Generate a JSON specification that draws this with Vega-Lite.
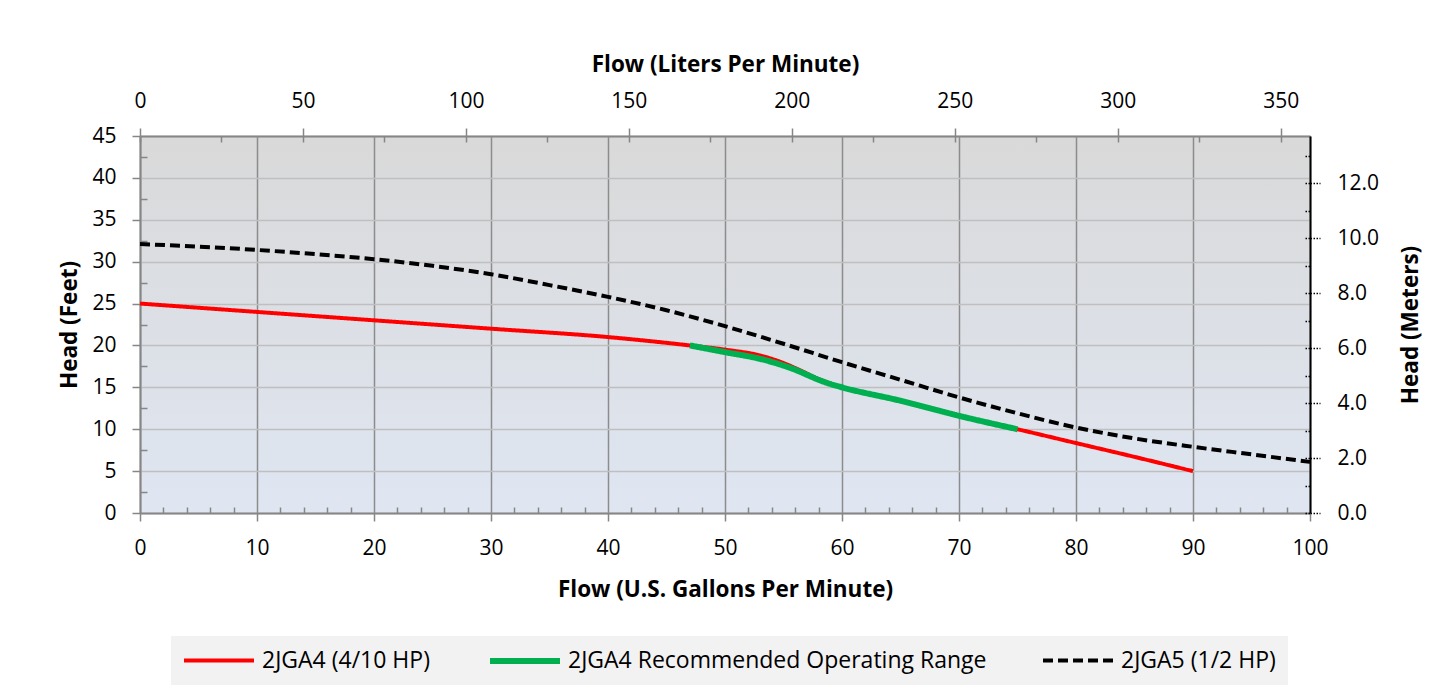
{
  "$schema": "https://vega.github.io/schema/vega-lite/v6.json",
  "width": 1170,
  "height": 377,
  "autosize": {"type": "none"},
  "padding": {"left": 140, "top": 136, "right": 137, "bottom": 183},
  "background": "white",
  "config": {
    "font": "Open Sans",
    "view": {
      "stroke": null,
      "fill": {
        "gradient": "linear",
        "x1": 0, "y1": 0, "x2": 0, "y2": 1,
        "stops": [
          {"offset": 0, "color": "#d9d9d9"},
          {"offset": 1, "color": "#dfe6f2"}
        ]
      }
    },
    "axis": {
      "labelFont": "Open Sans",
      "labelFontSize": 21,
      "labelColor": "#000000",
      "labelFlush": false,
      "titleFont": "Open Sans",
      "titleFontSize": 22.5,
      "titleFontWeight": "bold",
      "titleColor": "#000000"
    },
    "legend": {
      "orient": "none",
      "legendX": 31,
      "legendY": 500,
      "direction": "horizontal",
      "columns": 3,
      "columnPadding": 48,
      "symbolType": "M-3.5,0H3.5",
      "symbolSize": 400,
      "symbolOffset": 23,
      "labelOffset": 30,
      "labelFont": "Open Sans",
      "labelFontSize": 23,
      "labelColor": "#000000",
      "labelLimit": 0,
      "fillColor": "#f2f2f2",
      "padding": 12,
      "title": null
    }
  },
  "datasets": {
    "curves": [
      {"series": "2JGA4 (4/10 HP)", "gpm": 0, "ft": 25.0},
      {"series": "2JGA4 (4/10 HP)", "gpm": 10, "ft": 24.0},
      {"series": "2JGA4 (4/10 HP)", "gpm": 20, "ft": 23.0},
      {"series": "2JGA4 (4/10 HP)", "gpm": 30, "ft": 22.0},
      {"series": "2JGA4 (4/10 HP)", "gpm": 40, "ft": 21.0},
      {"series": "2JGA4 (4/10 HP)", "gpm": 47, "ft": 20.0},
      {"series": "2JGA4 (4/10 HP)", "gpm": 50, "ft": 19.5},
      {"series": "2JGA4 (4/10 HP)", "gpm": 53, "ft": 18.8},
      {"series": "2JGA4 (4/10 HP)", "gpm": 55, "ft": 17.9},
      {"series": "2JGA4 (4/10 HP)", "gpm": 56, "ft": 17.3},
      {"series": "2JGA4 (4/10 HP)", "gpm": 58, "ft": 16.0},
      {"series": "2JGA4 (4/10 HP)", "gpm": 60, "ft": 15.0},
      {"series": "2JGA4 (4/10 HP)", "gpm": 65, "ft": 13.4},
      {"series": "2JGA4 (4/10 HP)", "gpm": 70, "ft": 11.6},
      {"series": "2JGA4 (4/10 HP)", "gpm": 75, "ft": 10.0},
      {"series": "2JGA4 (4/10 HP)", "gpm": 80, "ft": 8.35},
      {"series": "2JGA4 (4/10 HP)", "gpm": 85, "ft": 6.7},
      {"series": "2JGA4 (4/10 HP)", "gpm": 90, "ft": 5.0},
      {"series": "2JGA4 Recommended Operating Range", "gpm": 47, "ft": 20.0},
      {"series": "2JGA4 Recommended Operating Range", "gpm": 50, "ft": 19.2},
      {"series": "2JGA4 Recommended Operating Range", "gpm": 53, "ft": 18.4},
      {"series": "2JGA4 Recommended Operating Range", "gpm": 55, "ft": 17.6},
      {"series": "2JGA4 Recommended Operating Range", "gpm": 56, "ft": 17.1},
      {"series": "2JGA4 Recommended Operating Range", "gpm": 57, "ft": 16.5},
      {"series": "2JGA4 Recommended Operating Range", "gpm": 58, "ft": 15.9},
      {"series": "2JGA4 Recommended Operating Range", "gpm": 59, "ft": 15.4},
      {"series": "2JGA4 Recommended Operating Range", "gpm": 60, "ft": 15.0},
      {"series": "2JGA4 Recommended Operating Range", "gpm": 65, "ft": 13.4},
      {"series": "2JGA4 Recommended Operating Range", "gpm": 70, "ft": 11.6},
      {"series": "2JGA4 Recommended Operating Range", "gpm": 75, "ft": 10.0},
      {"series": "2JGA5 (1/2 HP)", "gpm": 0, "ft": 32.1},
      {"series": "2JGA5 (1/2 HP)", "gpm": 5, "ft": 31.8},
      {"series": "2JGA5 (1/2 HP)", "gpm": 10, "ft": 31.4},
      {"series": "2JGA5 (1/2 HP)", "gpm": 15, "ft": 30.9},
      {"series": "2JGA5 (1/2 HP)", "gpm": 20, "ft": 30.3},
      {"series": "2JGA5 (1/2 HP)", "gpm": 25, "ft": 29.5},
      {"series": "2JGA5 (1/2 HP)", "gpm": 30, "ft": 28.5},
      {"series": "2JGA5 (1/2 HP)", "gpm": 35, "ft": 27.2},
      {"series": "2JGA5 (1/2 HP)", "gpm": 40, "ft": 25.8},
      {"series": "2JGA5 (1/2 HP)", "gpm": 45, "ft": 24.2},
      {"series": "2JGA5 (1/2 HP)", "gpm": 50, "ft": 22.3},
      {"series": "2JGA5 (1/2 HP)", "gpm": 55, "ft": 20.2},
      {"series": "2JGA5 (1/2 HP)", "gpm": 60, "ft": 18.0},
      {"series": "2JGA5 (1/2 HP)", "gpm": 65, "ft": 15.9},
      {"series": "2JGA5 (1/2 HP)", "gpm": 70, "ft": 13.8},
      {"series": "2JGA5 (1/2 HP)", "gpm": 75, "ft": 11.9},
      {"series": "2JGA5 (1/2 HP)", "gpm": 80, "ft": 10.2},
      {"series": "2JGA5 (1/2 HP)", "gpm": 85, "ft": 8.9},
      {"series": "2JGA5 (1/2 HP)", "gpm": 90, "ft": 7.9},
      {"series": "2JGA5 (1/2 HP)", "gpm": 95, "ft": 7.0},
      {"series": "2JGA5 (1/2 HP)", "gpm": 100, "ft": 6.1}
    ],
    "metric": [
      {"lpm": 0, "m": 0},
      {"lpm": 359, "m": 13.716}
    ]
  },
  "resolve": {"scale": {"x": "independent", "y": "independent"}},
  "layer": [
    {
      "data": {"name": "curves"},
      "mark": {"type": "line", "interpolate": "monotone", "strokeCap": "butt"},
      "encoding": {
        "x": {
          "field": "gpm", "type": "quantitative",
          "scale": {"domain": [0, 100], "nice": false},
          "axis": {
            "orient": "bottom",
            "values": [0, 10, 20, 30, 40, 50, 60, 70, 80, 90, 100],
            "grid": true, "gridColor": "#8c8c8c", "gridWidth": 1.5,
            "domainColor": "#868686", "domainWidth": 2,
            "tickColor": "#868686", "tickWidth": 1.5, "tickSize": 8,
            "labelPadding": 16,
            "title": "Flow (U.S. Gallons Per Minute)", "titlePadding": 20
          }
        },
        "y": {
          "field": "ft", "type": "quantitative",
          "scale": {"domain": [0, 45], "nice": false},
          "axis": {
            "orient": "left",
            "values": [0, 5, 10, 15, 20, 25, 30, 35, 40, 45],
            "grid": true, "gridColor": "#bfbfbf", "gridWidth": 1.5,
            "domainColor": "#868686", "domainWidth": 2,
            "tickColor": "#868686", "tickWidth": 1.5, "tickSize": 8,
            "labelPadding": 16,
            "title": "Head (Feet)", "titlePadding": 10
          }
        },
        "color": {
          "field": "series", "type": "nominal",
          "scale": {
            "domain": ["2JGA4 (4/10 HP)", "2JGA4 Recommended Operating Range", "2JGA5 (1/2 HP)"],
            "range": ["#ff0000", "#00b050", "#000000"]
          }
        },
        "strokeDash": {
          "field": "series", "type": "nominal",
          "scale": {
            "domain": ["2JGA4 (4/10 HP)", "2JGA4 Recommended Operating Range", "2JGA5 (1/2 HP)"],
            "range": [[1, 0], [1, 0], [10, 5]]
          }
        },
        "strokeWidth": {
          "field": "series", "type": "nominal",
          "scale": {
            "type": "ordinal",
            "domain": ["2JGA4 (4/10 HP)", "2JGA4 Recommended Operating Range", "2JGA5 (1/2 HP)"],
            "range": [4, 6, 4]
          }
        }
      }
    },
    {
      "data": {"name": "curves"},
      "mark": {"type": "point", "opacity": 0},
      "encoding": {
        "x": {
          "field": "gpm", "type": "quantitative",
          "scale": {"domain": [0, 100], "nice": false},
          "axis": {
            "orient": "bottom", "offset": -6,
            "values": [2,4,6,8,12,14,16,18,22,24,26,28,32,34,36,38,42,44,46,48,52,54,56,58,62,64,66,68,72,74,76,78,82,84,86,88,92,94,96,98],
            "grid": false, "domain": false, "labels": false, "title": null,
            "tickColor": "#868686", "tickWidth": 1.5, "tickSize": 6
          }
        },
        "y": {
          "field": "ft", "type": "quantitative",
          "scale": {"domain": [0, 45], "nice": false},
          "axis": {
            "orient": "left", "offset": -7,
            "values": [2.5, 7.5, 12.5, 17.5, 22.5, 27.5, 32.5, 37.5, 42.5],
            "grid": false, "domain": false, "labels": false, "title": null,
            "tickColor": "#868686", "tickWidth": 1.5, "tickSize": 7
          }
        }
      }
    },
    {
      "data": {"name": "metric"},
      "mark": {"type": "point", "opacity": 0},
      "encoding": {
        "x": {
          "field": "lpm", "type": "quantitative",
          "scale": {"domain": [0, 359], "nice": false},
          "axis": {
            "orient": "top",
            "values": [0, 50, 100, 150, 200, 250, 300, 350],
            "grid": false,
            "domainColor": "#868686", "domainWidth": 2,
            "tickColor": "#868686", "tickWidth": 1.5, "tickSize": 8,
            "labelPadding": 17,
            "title": "Flow (Liters Per Minute)", "titlePadding": 14
          }
        },
        "y": {
          "field": "m", "type": "quantitative",
          "scale": {"domain": [0, 13.716], "nice": false},
          "axis": {
            "orient": "right",
            "values": [0, 2, 4, 6, 8, 10, 12],
            "format": ".1f",
            "grid": false,
            "domainColor": "#000000", "domainWidth": 2,
            "tickColor": "#000000", "tickWidth": 1.5, "tickSize": 10, "tickDash": [1.5, 1.5],
            "labelPadding": 17,
            "title": "Head (Meters)", "titleAngle": 270, "titlePadding": 44
          }
        }
      }
    },
    {
      "data": {"name": "metric"},
      "mark": {"type": "point", "opacity": 0},
      "encoding": {
        "x": {
          "field": "lpm", "type": "quantitative",
          "scale": {"domain": [0, 359], "nice": false},
          "axis": {
            "orient": "top", "offset": -6,
            "values": [0, 25, 50, 75, 100, 125, 150, 175, 200, 225, 250, 275, 300, 325, 350],
            "grid": false, "domain": false, "labels": false, "title": null,
            "tickColor": "#868686", "tickWidth": 1.5, "tickSize": 6
          }
        },
        "y": {
          "field": "m", "type": "quantitative",
          "scale": {"domain": [0, 13.716], "nice": false},
          "axis": {
            "orient": "right", "offset": -5,
            "values": [0, 1, 2, 3, 4, 5, 6, 7, 8, 9, 10, 11, 12, 13],
            "grid": false, "domain": false, "labels": false, "title": null,
            "tickColor": "#000000", "tickWidth": 1.5, "tickSize": 5, "tickDash": [1.5, 1.5]
          }
        }
      }
    }
  ]
}
